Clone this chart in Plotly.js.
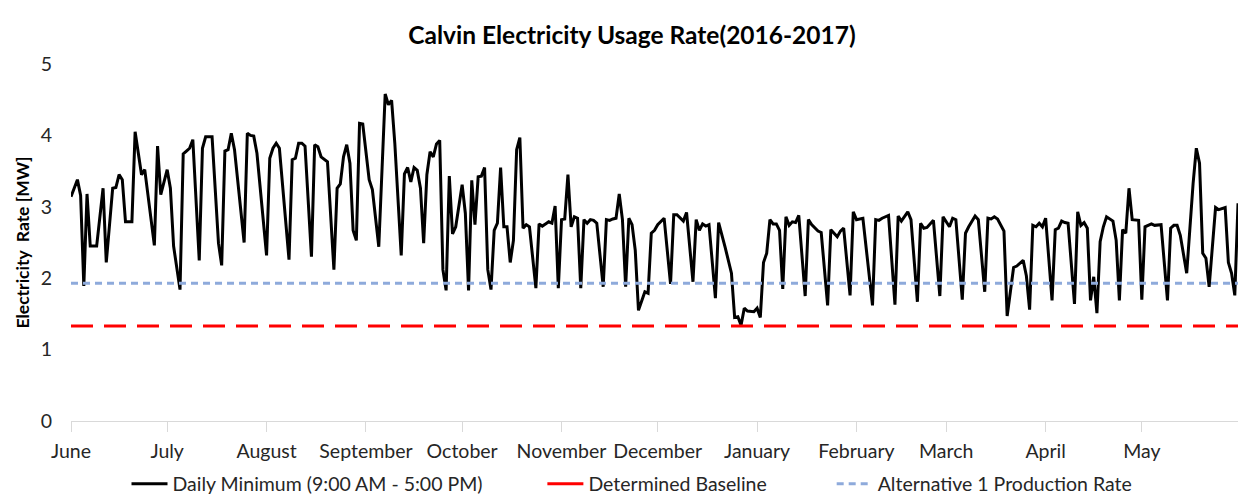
<!DOCTYPE html>
<html>
<head>
<meta charset="utf-8">
<script src="https://cdn.plot.ly/plotly-3.0.1.min.js"></script>
<style>html,body{margin:0;padding:0;background:#fff;}#chart{width:1250px;height:502px;}</style>
</head>
<body>
<div id="chart"></div>
<script>
// Day offsets from June 1, 2016 and daily minimum electricity rate (MW)
var dayIndex = [0,2,3,4,5,6,8,10,11,13,14,15,16,17,19,20,22,23,26,27,28,30,31,32,34,35,36,37,38,40,41,42,44,46,47,48,49,50,51,54,55,56,57,58,61,62,63,64,65,68,69,70,71,72,73,75,76,77,78,80,82,83,84,85,86,87,88,89,90,91,93,94,96,98,99,100,101,103,104,105,106,107,108,109,110,111,112,113,114,115,116,117,118,119,120,122,123,124,125,126,127,128,129,130,131,132,133,134,135,136,137,138,139,140,141,142,143,145,146,147,148,149,150,151,152,153,154,155,156,157,158,159,160,161,162,163,164,166,167,168,169,170,171,172,173,174,175,176,177,178,179,180,181,182,183,185,186,187,188,189,191,192,194,195,196,197,198,199,201,202,204,206,207,208,209,210,211,213,214,215,216,217,218,219,220,221,222,223,224,225,226,227,229,230,231,233,234,236,237,239,240,241,243,244,245,247,250,251,252,253,255,257,258,259,261,262,264,265,266,267,269,271,272,274,275,276,278,279,280,282,283,285,286,287,288,289,291,292,294,295,297,298,299,300,301,302,303,304,306,307,308,309,310,311,313,314,315,316,317,318,319,320,321,322,323,325,326,327,328,329,330,331,333,334,335,337,338,340,342,343,344,345,346,348,350,351,352,353,354,355,357,358,360,361,362,363,364];
var dailyMin = [3.14,3.38,3.16,1.89,3.18,2.45,2.45,3.26,2.22,3.26,3.27,3.45,3.38,2.79,2.79,4.05,3.45,3.52,2.46,3.85,3.17,3.52,3.26,2.45,1.84,3.74,3.78,3.82,3.94,2.25,3.82,3.98,3.98,2.49,2.18,3.78,3.80,4.03,3.80,2.50,4.03,4.00,3.99,3.75,2.32,3.68,3.82,3.89,3.82,2.26,3.66,3.68,3.89,3.89,3.85,2.30,3.87,3.84,3.70,3.63,2.12,3.26,3.32,3.70,3.87,3.61,2.67,2.53,4.17,4.16,3.38,3.24,2.44,4.58,4.43,4.49,3.89,2.32,3.46,3.55,3.35,3.55,3.51,3.26,2.49,3.45,3.77,3.70,3.88,3.93,2.12,1.83,3.43,2.62,2.72,3.31,2.91,1.83,3.37,2.75,3.42,3.43,3.55,2.12,1.84,2.67,2.77,3.55,2.72,2.72,2.22,2.53,3.80,3.97,2.70,2.75,2.72,1.86,2.76,2.73,2.76,2.79,2.77,3.01,1.86,2.82,2.83,3.45,2.72,2.86,2.84,1.86,2.82,2.77,2.82,2.81,2.77,1.88,2.82,2.81,2.83,2.84,3.18,2.82,1.88,2.84,2.75,2.39,1.55,1.69,1.81,1.79,2.63,2.67,2.75,2.84,2.39,1.92,2.89,2.89,2.80,2.92,1.95,2.82,2.67,2.76,2.73,2.75,1.72,2.78,2.44,2.07,1.45,1.46,1.34,1.58,1.54,1.53,1.58,1.45,2.22,2.35,2.82,2.76,2.76,2.67,1.85,2.86,2.74,2.79,2.78,2.88,1.75,2.82,2.75,2.66,2.64,1.62,2.68,2.58,2.66,2.70,1.76,2.93,2.82,2.84,1.62,2.82,2.81,2.84,2.88,1.63,2.87,2.80,2.93,2.82,1.67,2.77,2.70,2.71,2.81,1.75,2.86,2.72,2.84,2.82,1.70,2.63,2.72,2.87,2.82,1.81,2.84,2.83,2.86,2.83,2.66,1.47,2.15,2.17,2.25,2.03,1.56,2.74,2.72,2.77,2.72,2.84,1.69,2.68,2.70,2.80,2.78,2.77,1.64,2.93,2.74,2.78,2.70,1.69,2.02,1.51,2.51,2.72,2.86,2.80,2.53,1.69,2.68,2.63,3.26,2.82,2.81,1.70,2.72,2.76,2.74,2.75,1.69,2.70,2.74,2.74,2.60,2.07,3.33,3.82,3.61,2.35,2.28,1.88,2.99,2.96,2.99,2.22,2.07,1.76,3.05];
var baselineRate = 1.33;
var alternativeRate = 1.93;
var periodDays = [0, 364];
var monthStarts = [0,30,61,92,122,153,183,214,245,273,304,334];
var monthLabels = ["June","July","August","September","October","November","December","January","February","March","April","May"];
var yTicks = [0,1,2,3,4,5];
var seriesNames = ["Daily Minimum (9:00 AM - 5:00 PM)", "Determined Baseline", "Alternative 1 Production Rate"];

var font = "Lato, 'Open Sans', sans-serif";
var pad = function(n){ return new Array(n + 1).join("\u00a0"); };

var traces = [
  {x: dayIndex, y: dailyMin, type: "scatter", mode: "lines",
   name: seriesNames[0] + pad(11),
   line: {color: "#000000", width: 3}},
  {x: periodDays, y: periodDays.map(function(){return baselineRate;}), type: "scatter", mode: "lines",
   name: seriesNames[1], showlegend: false, legendgroup: "base",
   line: {color: "#ff0000", width: 3, dash: "22px,11px"}},
  {x: [null], y: [null], type: "scatter", mode: "lines",
   name: seriesNames[1] + pad(12), legendgroup: "base",
   line: {color: "#ff0000", width: 3}},
  {x: periodDays, y: periodDays.map(function(){return alternativeRate;}), type: "scatter", mode: "lines",
   name: seriesNames[2],
   line: {color: "#8eaadb", width: 3, dash: "7px,5px"}}
];

var layout = {
  width: 1250, height: 502,
  margin: {l: 71, r: 12, t: 64, b: 81},
  paper_bgcolor: "#ffffff", plot_bgcolor: "#ffffff",
  font: {family: font, size: 19.5, color: "#262626"},
  title: {text: "<b>Calvin Electricity Usage Rate(2016-2017)</b>", font: {family: font, size: 24.5, color: "#000"},
          x: 0.5056, xanchor: "center", y: 1 - 35/502, yanchor: "middle", yref: "container"},
  xaxis: {range: [0, 364], tickvals: monthStarts, ticktext: monthLabels, automargin: false,
          showgrid: false, zeroline: false, showline: true, linecolor: "#d9d9d9", linewidth: 1,
          ticks: "outside", ticklen: 10, tickcolor: "#d9d9d9", tickwidth: 1,
          ticklabelstandoff: 3, tickfont: {family: font, size: 19.5, color: "#262626"}, fixedrange: true},
  yaxis: {range: [0, 5], tickvals: yTicks, showgrid: false, zeroline: false, showline: false, automargin: false,
          ticks: "", ticklabelstandoff: 18, tickfont: {family: font, size: 19.5, color: "#262626"},
          title: {text: "<b>Electricity  Rate [MW]</b>", font: {family: font, size: 17.5, color: "#000"}, standoff: 6},
          fixedrange: true},
  legend: {orientation: "h", xref: "container", yref: "container", x: 632/1250, xanchor: "center",
           y: 1 - 484/502, yanchor: "middle", traceorder: "normal",
           font: {family: font, size: 19.5, color: "#262626"}, itemwidth: 36, bgcolor: "rgba(0,0,0,0)"},
  showlegend: true
};

Plotly.newPlot("chart", traces, layout, {staticPlot: true, displayModeBar: false});
</script>
</body>
</html>
